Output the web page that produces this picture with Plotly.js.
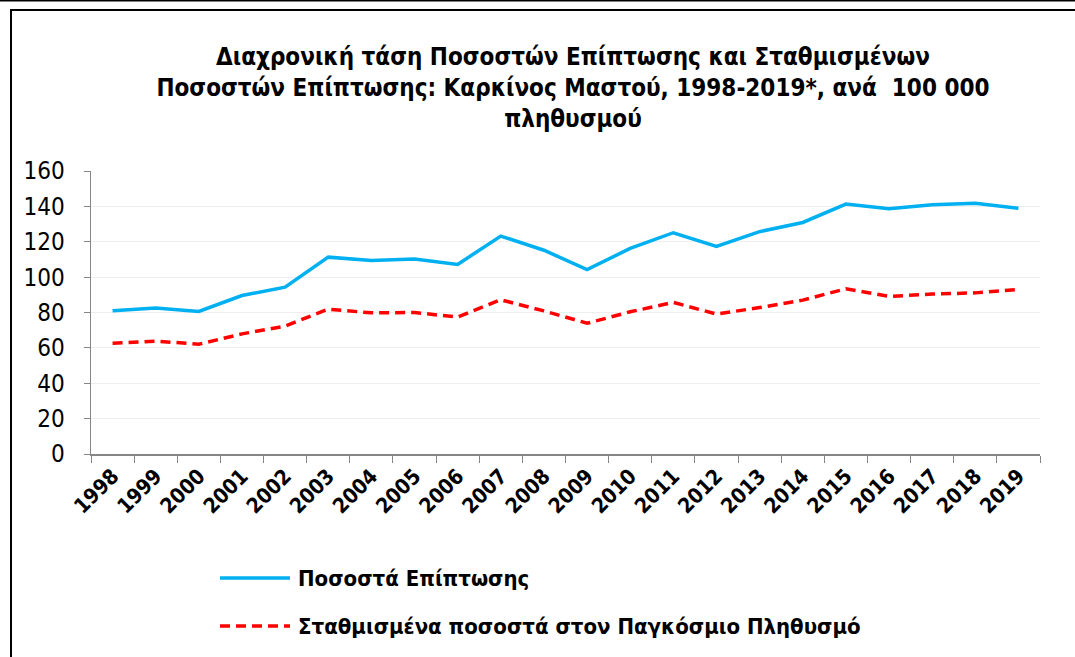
<!DOCTYPE html>
<html>
<head>
<meta charset="utf-8">
<script src="https://cdn.plot.ly/plotly-3.0.1.min.js"></script>
<style>html,body{margin:0;padding:0;background:#fff;}#chart{width:1075px;height:657px;}</style>
</head>
<body>
<div id="chart"></div>
<script>
const years = ["1998","1999","2000","2001","2002","2003","2004","2005","2006","2007","2008","2009","2010","2011","2012","2013","2014","2015","2016","2017","2018","2019"];
const incidenceRates = [81, 82.5, 80.6, 89.6, 94.3, 111.3, 109.4, 110.2, 107.2, 123.2, 115.2, 104.3, 116.2, 125.1, 117.4, 125.7, 130.9, 141.3, 138.7, 140.9, 141.7, 138.9];
const standardizedRates = [62.6, 63.8, 62.1, 67.9, 72.3, 81.9, 79.8, 80.0, 77.4, 87.2, 80.9, 73.9, 80.4, 85.7, 79.1, 82.8, 87.0, 93.4, 89.1, 90.4, 91.1, 93.0];
const seriesNames = ["Ποσοστά Επίπτωσης", "Σταθμισμένα ποσοστά στον Παγκόσμιο Πληθυσμό"];
const titleText = "Διαχρονική τάση Ποσοστών Επίπτωσης και Σταθμισμένων<br>Ποσοστών Επίπτωσης: Καρκίνος Μαστού, 1998-2019*, ανά  100 000<br>πληθυσμού";

const FONT = "'Liberation Sans Narrow', 'DejaVu Sans Condensed', 'Noto Sans', sans-serif";
const colors = ["#00B0F0", "#FF0000"];

const traces = [
  {x: years, y: incidenceRates, name: seriesNames[0], type: "scatter", mode: "lines",
   line: {color: colors[0], width: 3.5}},
  {x: years, y: standardizedRates, name: seriesNames[1], type: "scatter", mode: "lines",
   line: {color: colors[1], width: 3.5, dash: "10px,6px"}}
];

const L = 91, R = 1040, T = 171, B = 454;
const pw = R - L, ph = B - T;
const px = v => (v - L) / pw;
const py = v => (B - v) / ph;

const shapes = [
  {type: "rect", xref: "paper", yref: "paper", x0: px(11), x1: px(1100), y0: py(700), y1: py(10),
   line: {color: "#000", width: 2}, fillcolor: "rgba(0,0,0,0)", layer: "below"},
  {type: "line", xref: "paper", yref: "paper", x0: px(0), x1: px(1075), y0: py(0.5), y1: py(0.5),
   line: {color: "#000", width: 2}},
  {type: "line", xref: "paper", yref: "paper", x0: px(220), x1: px(290), y0: py(578), y1: py(578),
   line: {color: colors[0], width: 3.5}},
  {type: "line", xref: "paper", yref: "paper", x0: px(220), x1: px(290), y0: py(626), y1: py(626),
   line: {color: colors[1], width: 3.5, dash: "10px,6px"}}
];

const annotations = [
  {xref: "paper", yref: "paper", x: px(296), y: py(578), xanchor: "left", yanchor: "middle",
   text: "<b>" + seriesNames[0] + "</b>", showarrow: false, font: {family: FONT, size: 22, color: "#000"}},
  {xref: "paper", yref: "paper", x: px(296), y: py(626), xanchor: "left", yanchor: "middle",
   text: "<b>" + seriesNames[1] + "</b>", showarrow: false, font: {family: FONT, size: 22, color: "#000"}}
];

const layout = {
  width: 1075, height: 657,
  margin: {l: L, r: 1075 - R, t: T, b: 657 - B},
  paper_bgcolor: "#fff", plot_bgcolor: "#fff",
  showlegend: false,
  title: {text: "<b>" + titleText + "</b>", x: 0.533, xanchor: "center", y: 1 - 65 / 657, yanchor: "middle",
          font: {family: FONT, size: 24, color: "#000"}},
  font: {family: FONT, color: "#000"},
  xaxis: {type: "category", tickangle: -45, tickson: "boundaries", ticks: "outside", ticklen: 7,
          tickcolor: "#868686", showline: true, linecolor: "#868686", linewidth: 1.5,
          showgrid: false, zeroline: false, tickfont: {family: FONT, size: 21, color: "#000", weight: "bold"},
          range: [-0.5, 21.5]},
  yaxis: {range: [0, 160], dtick: 20, ticks: "outside", ticklen: 6, tickcolor: "#868686",
          showline: true, linecolor: "#868686", linewidth: 1.5, gridcolor: "#EEEEEE", gridwidth: 1,
          zeroline: false, ticklabelstandoff: 14, tickfont: {family: FONT, size: 24, color: "#000"}},
  shapes: shapes,
  annotations: annotations
};

Plotly.newPlot("chart", traces, layout, {displayModeBar: false, staticPlot: true});
</script>
</body>
</html>
